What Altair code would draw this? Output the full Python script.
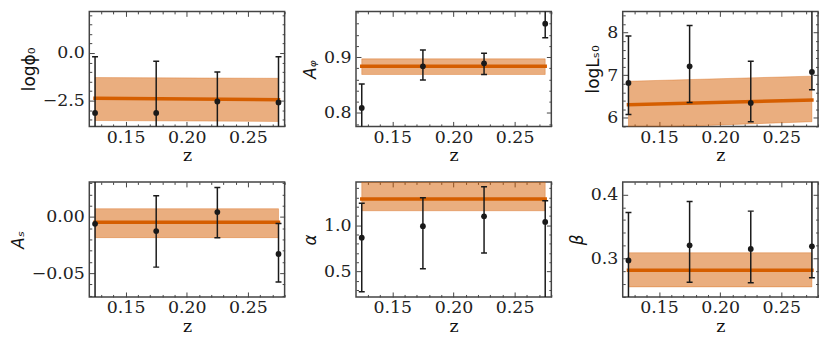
import altair as alt
import numpy as np
import pandas as pd

# ---------------- data ----------------
z = [0.125, 0.175, 0.225, 0.275]
z_fit = [0.125, 0.275]

titles = ["logϕ₀", "Aᵩ", "logLₛ₀", "Aₛ", "α", "β"]

vals = [
    [-3.15, -3.15, -2.55, -2.60],
    [0.809, 0.8836, 0.889, 0.960],
    [6.82, 7.21, 6.35, 7.08],
    [-0.0061, -0.0125, 0.0044, -0.033],
    [0.865, 0.989, 1.096, 1.035],
    [0.297, 0.3206, 0.315, 0.319],
]
err_lo = [
    [-6.10, -5.87, -4.10, -5.00],
    [0.766, 0.859, 0.869, 0.935],
    [6.08, 6.36, 5.91, 6.66],
    [-0.100, -0.0447, -0.0184, -0.058],
    [0.28, 0.528, 0.699, 0.15],
    [0.222, 0.263, 0.262, 0.270],
]
err_hi = [
    [-0.20, -0.43, -1.00, -0.20],
    [0.852, 0.913, 0.907, 0.985],
    [7.92, 8.17, 7.33, 8.60],
    [0.090, 0.019, 0.0263, -0.0058],
    [1.237, 1.298, 1.415, 1.263],
    [0.372, 0.389, 0.374, 0.430],
]
fit_line = [
    [-2.38, -2.46],
    [0.8836, 0.8836],
    [6.31, 6.42],
    [-0.0046, -0.0046],
    [1.284, 1.284],
    [0.2816, 0.2816],
]
band_lo = [
    [-3.55, -3.60],
    [0.869, 0.869],
    [5.76, 5.91],
    [-0.0184, -0.0184],
    [1.156, 1.156],
    [0.2557, 0.2557],
]
band_hi = [
    [-1.29, -1.33],
    [0.897, 0.897],
    [6.86, 6.98],
    [0.0074, 0.0074],
    [1.50, 1.50],
    [0.309, 0.309],
]

# ---------------- axes / styling ----------------
x_domain = [0.1203, 0.2800]
x_major = [0.15, 0.20, 0.25]
x_minor_step = 0.01

y_domains = [
    [-3.86, 2.19],
    [0.776, 0.982],
    [5.8, 8.5],
    [-0.0713, 0.0313],
    [0.223, 1.468],
    [0.240, 0.4196],
]
y_major = [
    [-2.5, 0.0],
    [0.8, 0.9],
    [6, 7, 8],
    [-0.05, 0.0],
    [0.5, 1.0],
    [0.3, 0.4],
]
y_minor_step = [0.5, 0.02, 0.2, 0.01, 0.1, 0.02]
y_fmt = [".1f", ".1f", ".0f", ".2f", ".1f", ".1f"]
y_italic = [False, True, False, True, True, True]

ORANGE = "#D55E00"
DARK = "#1a1a1a"
FRAME = "#444444"
SERIF = "DejaVu Serif, Liberation Serif, serif"
SANS = "DejaVu Sans, sans-serif"
W, H = 197, 116


def minor_values(domain, step, major):
    start = np.ceil(domain[0] / step - 1e-9) * step
    vals_ = np.arange(start, domain[1] + 1e-12, step)
    out = []
    for v in vals_:
        v = round(float(v), 6)
        if all(abs(v - m) > step * 0.1 for m in major):
            out.append(v)
    return out


def axis(orient, values, major=True, labels=False, fmt=None, **kw):
    size = 5 if major else 2.5
    args = dict(
        orient=orient, values=values, tickSize=size, offset=-size,
        domain=False, grid=False, labels=labels, tickColor=FRAME,
        tickWidth=1, labelFont=SERIF, labelFontSize=17.5, labelColor="#222222",
    )
    if fmt:
        args["format"] = fmt
    args.update(kw)
    return alt.Axis(**args)


def panel(i):
    df = pd.DataFrame({"z": z, "val": vals[i], "lo": err_lo[i], "hi": err_hi[i]})
    fit = pd.DataFrame({"z": z_fit, "fit": fit_line[i], "blo": band_lo[i], "bhi": band_hi[i]})
    xs = alt.Scale(domain=x_domain, nice=False, zero=False)
    ys = alt.Scale(domain=y_domains[i], nice=False, zero=False)
    xminor = minor_values(x_domain, x_minor_step, x_major)
    yminor = minor_values(y_domains[i], y_minor_step[i], y_major[i])

    x_bot = axis("bottom", x_major, True, True, ".2f", labelPadding=2,
                 titleFont=SERIF, titleFontSize=17.5, titlePadding=1,
                 titleFontWeight="normal", titleColor="#111111")
    y_left = axis("left", y_major[i], True, True, y_fmt[i], labelPadding=5,
                  titleFont=SANS, titleFontSize=17, titlePadding=4,
                  titleFontWeight="normal", titleColor="#111111",
                  titleFontStyle="italic" if y_italic[i] else "normal")

    band = alt.Chart(fit).mark_area(
        color=ORANGE, fillOpacity=0.5, stroke=ORANGE, strokeOpacity=0.35,
        strokeWidth=1, clip=True
    ).encode(
        x=alt.X("z:Q", scale=xs, axis=x_bot, title="z"),
        y=alt.Y("blo:Q", scale=ys, axis=y_left, title=titles[i]),
        y2="bhi:Q",
    )
    line = alt.Chart(fit).mark_line(
        color=ORANGE, strokeWidth=3.5, strokeCap="square", clip=True
    ).encode(
        x=alt.X("z:Q", scale=xs, axis=axis("bottom", xminor, False), title=None),
        y=alt.Y("fit:Q", scale=ys, axis=axis("left", yminor, False), title=None),
    )
    rule = alt.Chart(df).mark_rule(color=DARK, strokeWidth=1.5, clip=True).encode(
        x=alt.X("z:Q", scale=xs, axis=axis("top", x_major, True), title=None),
        y=alt.Y("lo:Q", scale=ys, axis=axis("right", y_major[i], True), title=None),
        y2="hi:Q",
    )
    cap_lo = alt.Chart(df).mark_tick(
        orient="horizontal", size=6, thickness=1.5, color=DARK, opacity=1, clip=True
    ).encode(
        x=alt.X("z:Q", scale=xs, axis=axis("top", xminor, False), title=None),
        y=alt.Y("lo:Q", scale=ys, axis=axis("right", yminor, False), title=None),
    )
    cap_hi = alt.Chart(df).mark_tick(
        orient="horizontal", size=6, thickness=1.5, color=DARK, opacity=1, clip=True
    ).encode(
        x=alt.X("z:Q", scale=xs, axis=None),
        y=alt.Y("hi:Q", scale=ys, axis=None),
    )
    pts = alt.Chart(df).mark_circle(size=34, color=DARK, opacity=1, clip=True).encode(
        x=alt.X("z:Q", scale=xs, axis=None),
        y=alt.Y("val:Q", scale=ys, axis=None),
    )
    return alt.layer(band, line, rule, cap_lo, cap_hi, pts).resolve_axis(
        x="independent", y="independent"
    ).properties(width=W, height=H)


chart = alt.concat(
    *[panel(i) for i in range(6)],
    columns=3,
    spacing={"row": 56, "column": 72},
    bounds="flush",
).configure_view(
    stroke=FRAME, strokeWidth=1.5
).properties(
    background="white", padding={"left": 0, "top": 0, "right": 2, "bottom": 2}
)

chart.save("out.html", embed_options={"renderer": "svg", "actions": False})
